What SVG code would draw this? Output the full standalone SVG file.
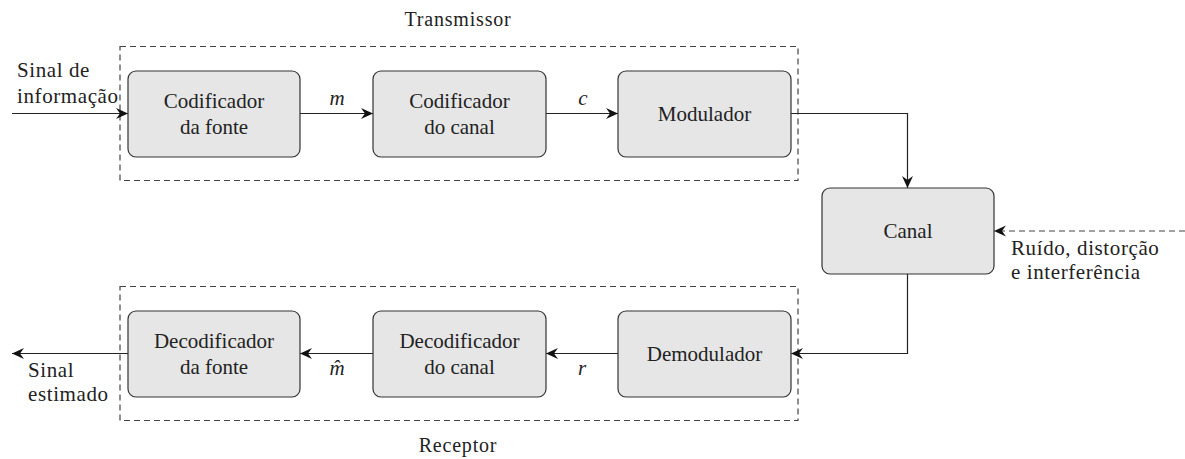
<svg xmlns="http://www.w3.org/2000/svg" width="1185" height="459" viewBox="0 0 1185 459">
<style>
.box{fill:#e6e6e6;stroke:#333;stroke-width:1.2}
.grp{fill:none;stroke:#444;stroke-width:1.2;stroke-dasharray:6,4}
.ln{fill:none;stroke:#222;stroke-width:1.2}
.dln{fill:none;stroke:#444;stroke-width:1.2;stroke-dasharray:6,4}
text{font-family:"Liberation Serif","DejaVu Serif","Times New Roman",serif;font-size:21px;fill:#222}
.c{text-anchor:middle}
.it{font-style:italic}
.lbl{font-size:21px;letter-spacing:0.6px}
.ttl{font-size:20px;letter-spacing:0.8px}
</style>
<defs>
<marker id="ah" markerUnits="userSpaceOnUse" markerWidth="16" markerHeight="14" viewBox="-14 -7 16 14" refX="0" refY="0" orient="auto" overflow="visible">
<path d="M0,0 L-12,-5.5 L-8,0 L-12,5.5 Z" fill="#111"/>
</marker>
</defs>
<g id="groups">
<rect class="grp" x="120" y="46.5" width="678" height="134"/>
<rect class="grp" x="120" y="286.5" width="678" height="134"/>
<text class="c ttl" x="458" y="26">Transmissor</text>
<text class="c ttl" x="458" y="452">Receptor</text>
</g>
<g id="connectors">
<line class="ln" x1="12" y1="113.5" x2="128" y2="113.5" marker-end="url(#ah)"/>
<line class="ln" x1="300" y1="113.5" x2="373" y2="113.5" marker-end="url(#ah)"/>
<line class="ln" x1="546" y1="113.5" x2="618" y2="113.5" marker-end="url(#ah)"/>
<polyline class="ln" points="791,113.5 907.5,113.5 907.5,188" marker-end="url(#ah)"/>
<polyline class="ln" points="907.5,274 907.5,353.5 791,353.5" marker-end="url(#ah)"/>
<line class="dln" x1="1185" y1="231" x2="994" y2="231" marker-end="url(#ah)"/>
<line class="ln" x1="618" y1="353.5" x2="546" y2="353.5" marker-end="url(#ah)"/>
<line class="ln" x1="373" y1="353.5" x2="300" y2="353.5" marker-end="url(#ah)"/>
<line class="ln" x1="128" y1="353.5" x2="12" y2="353.5" marker-end="url(#ah)"/>
<text class="lbl" x="17" y="77">Sinal de</text>
<text class="lbl" x="17" y="103">informação</text>
<text class="lbl" x="28" y="377">Sinal</text>
<text class="lbl" x="28" y="401">estimado</text>
<text class="c it" x="337" y="105">m</text>
<text class="c it" x="583" y="105">c</text>
<text class="c it" x="337" y="375">m̂</text>
<text class="c it" x="582" y="375">r</text>
<text class="lbl" x="1011" y="255">Ruído, distorção</text>
<text class="lbl" x="1011" y="279">e interferência</text>
</g>
<g id="cod_fonte">
<rect class="box" x="128" y="71" width="172" height="86" rx="8"/>
<text class="c" x="214" y="108">Codificador</text>
<text class="c" x="214" y="134">da fonte</text>
</g>
<g id="cod_canal">
<rect class="box" x="373" y="71" width="173" height="86" rx="8"/>
<text class="c" x="459.5" y="108">Codificador</text>
<text class="c" x="459.5" y="134">do canal</text>
</g>
<g id="modulador">
<rect class="box" x="618" y="71" width="173" height="86" rx="8"/>
<text class="c" x="704.5" y="121">Modulador</text>
</g>
<g id="canal">
<rect class="box" x="822" y="188" width="172" height="86" rx="8"/>
<text class="c" x="908" y="238">Canal</text>
</g>
<g id="demodulador">
<rect class="box" x="618" y="311" width="173" height="86" rx="8"/>
<text class="c" x="704.5" y="361">Demodulador</text>
</g>
<g id="decod_canal">
<rect class="box" x="373" y="311" width="173" height="86" rx="8"/>
<text class="c" x="459.5" y="348">Decodificador</text>
<text class="c" x="459.5" y="374">do canal</text>
</g>
<g id="decod_fonte">
<rect class="box" x="128" y="311" width="172" height="86" rx="8"/>
<text class="c" x="214" y="348">Decodificador</text>
<text class="c" x="214" y="374">da fonte</text>
</g>
</svg>
